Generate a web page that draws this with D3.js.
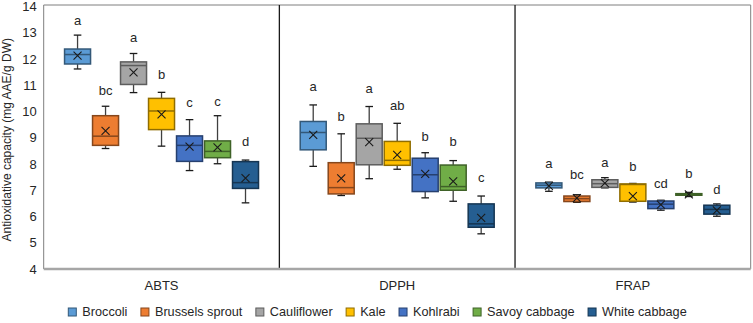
<!DOCTYPE html>
<html><head><meta charset="utf-8">
<script src="https://cdn.jsdelivr.net/npm/d3@7"></script>
<style>body{margin:0;background:#fff}svg{display:block}text{font-family:Arial,"Liberation Sans",sans-serif}</style>
</head><body><svg id="c" width="753" height="323"></svg>
<script>
const assays = ["ABTS", "DPPH", "FRAP"];
const vegetables = ["Broccoli", "Brussels sprout", "Cauliflower", "Kale", "Kohlrabi", "Savoy cabbage", "White cabbage"];
const colors = ["#5B9BD5", "#ED7D31", "#A5A5A5", "#FFC000", "#4472C4", "#70AD47", "#255E91"];
const yTicks = [4, 5, 6, 7, 8, 9, 10, 11, 12, 13, 14];
// rows: [whisker min, Q1, median, Q3, whisker max, mean]
const abts = [
  [11.62, 11.81, 12.17, 12.38, 12.91, 12.13],
  [8.59, 8.71, 9.06, 9.84, 10.20, 9.26],
  [10.72, 11.03, 11.75, 11.89, 12.21, 11.49],
  [8.68, 9.31, 10.02, 10.50, 10.73, 9.89],
  [7.75, 8.10, 8.71, 9.07, 9.69, 8.66],
  [8.01, 8.24, 8.48, 8.88, 9.84, 8.63],
  [6.52, 7.07, 7.29, 8.09, 8.15, 7.46]
];
const dpph = [
  [7.91, 8.54, 9.20, 9.62, 10.25, 9.11],
  [6.80, 6.86, 7.10, 8.05, 9.15, 7.45],
  [7.44, 7.97, 8.98, 9.53, 10.19, 8.83],
  [7.80, 7.95, 8.14, 8.86, 9.55, 8.35],
  [6.71, 6.95, 7.59, 8.22, 8.43, 7.62],
  [6.58, 7.00, 7.14, 7.96, 8.13, 7.34],
  [5.34, 5.59, 5.72, 6.48, 6.78, 5.95]
];
const frap = [
  [6.96, 7.09, 7.19, 7.28, 7.31, 7.17],
  [6.54, 6.57, 6.68, 6.78, 6.83, 6.70],
  [7.09, 7.11, 7.25, 7.40, 7.48, 7.27],
  [6.55, 6.58, 7.22, 7.24, 7.26, 6.78],
  [6.24, 6.30, 6.47, 6.59, 6.62, 6.45],
  [6.76, 6.81, 6.84, 6.87, 6.92, 6.84],
  [6.01, 6.09, 6.27, 6.43, 6.48, 6.23]
];
const abtsLetters = ["a", "bc", "a", "b", "c", "c", "d"];
const dpphLetters = ["a", "b", "a", "ab", "b", "b", "c"];
const frapLetters = ["a", "bc", "a", "b", "cd", "b", "d"];
// heights (in y units) at which the significance letters sit
const abtsLetterAt = [13.45, 10.79, 12.84, 11.40, 10.34, 10.39, 8.86];
const dpphLetterAt = [10.96, 9.82, 10.88, 10.22, 9.06, 8.86, 7.48];
const frapLetterAt = [8.01, 7.61, 8.07, 7.91, 7.25, 7.64, 7.04];

const statsByAssay = [abts, dpph, frap];
const lettersByAssay = [abtsLetters, dpphLetters, frapLetters];
const letterAtByAssay = [abtsLetterAt, dpphLetterAt, frapLetterAt];

const svg = d3.select("#c");
const L = 43.7, R = 750.7, T = 6.5, B = 269;
const y = d3.scaleLinear().domain([4, 14]).range([B, T]);
const x0 = d3.scaleBand().domain(assays).range([L, R]);
const x1 = d3.scaleBand().domain(vegetables).range([0, x0.bandwidth()]).paddingInner(2/28).paddingOuter(0.745);
const col = d3.scaleOrdinal().domain(vegetables).range(colors);

// plot frame
const TF = T - 1.5;
svg.append("line").attr("x1", L).attr("x2", R).attr("y1", TF).attr("y2", TF).attr("stroke", "#7f7f7f").attr("stroke-width", 1);
svg.append("line").attr("x1", R).attr("x2", R).attr("y1", TF).attr("y2", B).attr("stroke", "#7f7f7f").attr("stroke-width", 1);
svg.append("line").attr("x1", L).attr("x2", L).attr("y1", TF).attr("y2", B).attr("stroke", "#7f7f7f").attr("stroke-width", 1);
// separators
assays.slice(1).forEach(a => {
  svg.append("line").attr("x1", x0(a)).attr("x2", x0(a)).attr("y1", TF).attr("y2", B).attr("stroke", "#1a1a1a").attr("stroke-width", 1.3);
});
svg.append("line").attr("x1", L).attr("x2", R).attr("y1", B).attr("y2", B).attr("stroke", "#a6a6a6").attr("stroke-width", 2.5);

// y axis
const yAxis = svg.append("g").attr("transform", `translate(${L - 7},0)`)
  .call(d3.axisLeft(y).tickValues(yTicks).tickSize(0).tickPadding(0).tickFormat(d3.format("d")));
yAxis.select(".domain").remove();
yAxis.selectAll("text").attr("font-size", 13).attr("fill", "#262626").style("font-family", "Arial, 'Liberation Sans', sans-serif");

svg.append("text").attr("transform", `translate(11,${(T + B) / 2 + 2}) rotate(-90)`)
  .attr("text-anchor", "middle").attr("font-size", 12).attr("fill", "#262626")
  .text("Antioxidative capacity (mg AAE/g DW)");

// category labels
svg.selectAll(".cat").data(assays).join("text")
  .attr("x", d => x0(d) + x0.bandwidth() / 2).attr("y", 290)
  .attr("text-anchor", "middle").attr("font-size", 13).attr("fill", "#262626").text(d => d);

// boxes
assays.forEach((a, ai) => {
  const g = svg.append("g").attr("transform", `translate(${x0(a)},0)`);
  statsByAssay[ai].forEach((s, vi) => {
    const v = vegetables[vi];
    const bx = x1(v), bw = x1.bandwidth(), cx = bx + bw / 2;
    const [mn, q1, md, q3, mx, mean] = s;
    const dark = d3.color(col(v)).darker(1.6).formatHex();
    const cap = 3.8;
    g.append("line").attr("x1", cx).attr("x2", cx).attr("y1", y(mx)).attr("y2", y(q3)).attr("stroke", "#404040").attr("stroke-width", 1.3);
    g.append("line").attr("x1", cx).attr("x2", cx).attr("y1", y(q1)).attr("y2", y(mn)).attr("stroke", "#404040").attr("stroke-width", 1.3);
    g.append("line").attr("x1", cx - cap).attr("x2", cx + cap).attr("y1", y(mx)).attr("y2", y(mx)).attr("stroke", "#1a1a1a").attr("stroke-width", 1.3);
    g.append("line").attr("x1", cx - cap).attr("x2", cx + cap).attr("y1", y(mn)).attr("y2", y(mn)).attr("stroke", "#1a1a1a").attr("stroke-width", 1.3);
    g.append("rect").attr("x", bx).attr("y", y(q3)).attr("width", bw).attr("height", Math.max(0.5, y(q1) - y(q3)))
      .attr("fill", col(v)).attr("stroke", dark).attr("stroke-width", 1.5);
    g.append("line").attr("x1", bx).attr("x2", bx + bw).attr("y1", y(md)).attr("y2", y(md)).attr("stroke", dark).attr("stroke-width", 1.5);
    const m = 4, my = y(mean);
    g.append("path").attr("d", `M${cx - m},${my - m}L${cx + m},${my + m}M${cx - m},${my + m}L${cx + m},${my - m}`)
      .attr("stroke", "#1a1a1a").attr("stroke-width", 1.1).attr("fill", "none");
    g.append("text").attr("x", cx).attr("y", y(letterAtByAssay[ai][vi])).attr("dy", "0.35em")
      .attr("text-anchor", "middle").attr("font-size", 13).attr("fill", "#262626").text(lettersByAssay[ai][vi]);
  });
});

// legend
const lg = svg.append("g");
let cur = 0;
const gap = 13.5;
vegetables.forEach((v, i) => {
  const it = lg.append("g");
  it.append("rect").attr("x", 0).attr("y", -4).attr("width", 8).attr("height", 8)
    .attr("fill", col(v)).attr("stroke", d3.color(col(v)).darker(1.6).formatHex()).attr("stroke-width", 1);
  const t = it.append("text").attr("x", 14).attr("y", 0).attr("dy", "0.35em").attr("font-size", 12.7).attr("fill", "#262626").text(v);
  const w = 14 + t.node().getComputedTextLength();
  it.attr("transform", `translate(${cur},0)`);
  cur += w + gap;
});
const totalW = cur - gap;
lg.attr("transform", `translate(${377.5 - totalW / 2},312)`);
</script></body></html>
